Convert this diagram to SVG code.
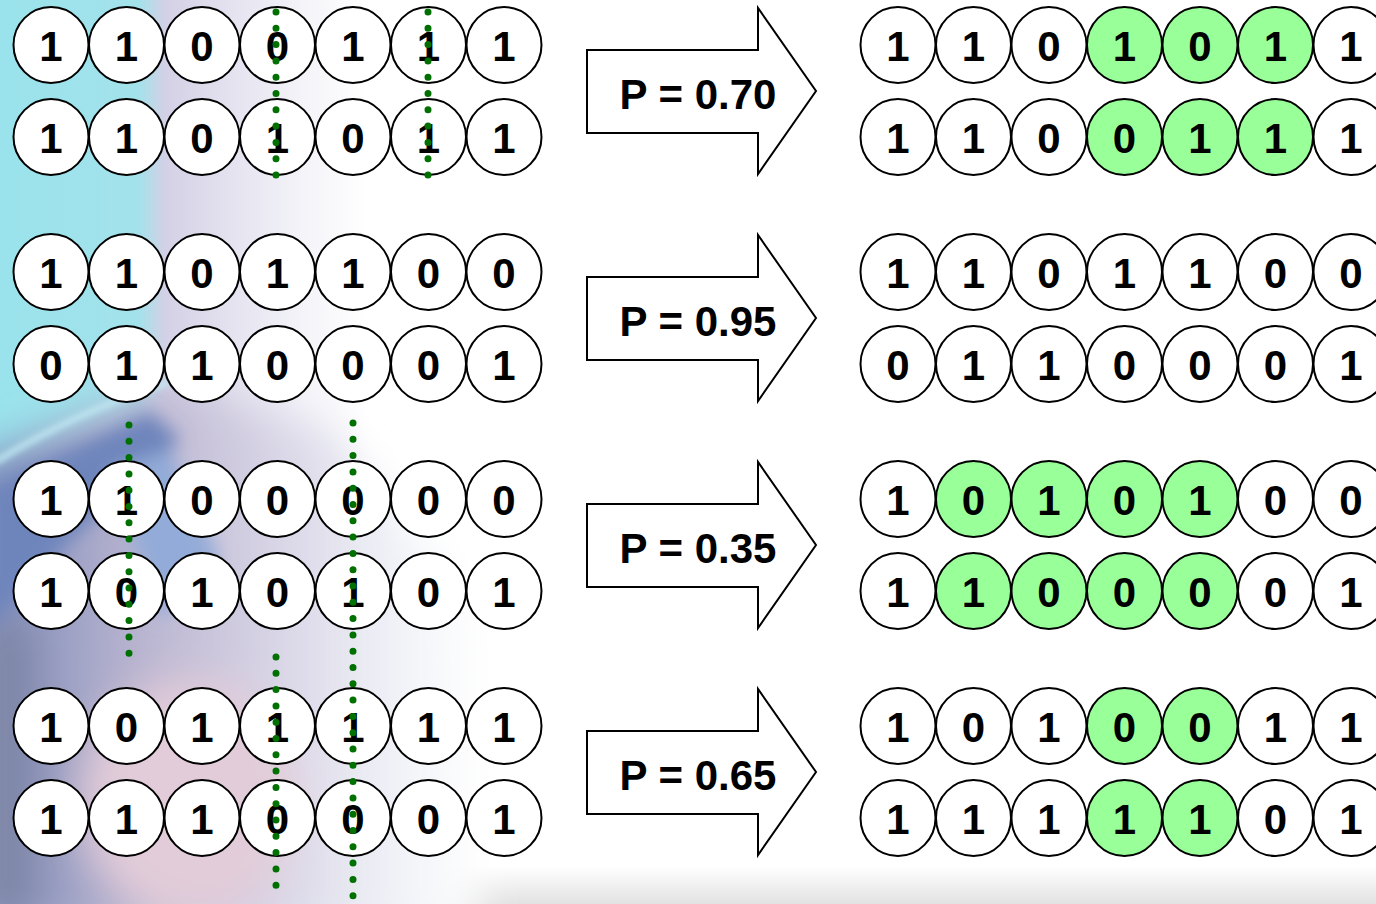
<svg xmlns="http://www.w3.org/2000/svg" width="1376" height="904" viewBox="0 0 1376 904">
<style>
.c{fill:#fff;stroke:#000;stroke-width:2}
.g{fill:#99ff99;stroke:#000;stroke-width:2}
.d{font-family:"Liberation Sans",Arial,sans-serif;font-weight:bold;font-size:42px;text-anchor:middle;fill:#000}
.a{fill:#fff;stroke:#000;stroke-width:2;stroke-linejoin:miter}
.p{font-family:"Liberation Sans",Arial,sans-serif;font-weight:bold;font-size:42px;text-anchor:middle;fill:#000}
.dots{stroke:#007000;stroke-width:7;stroke-linecap:round;stroke-dasharray:0 16.3;fill:none}
</style>
<defs>
<filter id="blur" x="-50%" y="-50%" width="200%" height="200%"><feGaussianBlur stdDeviation="20"/></filter>
<filter id="blur2" x="-50%" y="-50%" width="200%" height="200%"><feGaussianBlur stdDeviation="9"/></filter>
<filter id="blur3" x="-50%" y="-50%" width="200%" height="200%"><feGaussianBlur stdDeviation="3"/></filter>
<linearGradient id="topg" gradientUnits="userSpaceOnUse" x1="0" y1="0" x2="460" y2="0">
<stop offset="0" stop-color="#9ae3ec"/>
<stop offset="0.3" stop-color="#a3e2eb"/>
<stop offset="0.36" stop-color="#d4d0e6"/>
<stop offset="0.5" stop-color="#e4e2ef"/>
<stop offset="0.66" stop-color="#f4f4f9"/>
<stop offset="0.8" stop-color="#ffffff"/>
</linearGradient>
<linearGradient id="botg" gradientUnits="userSpaceOnUse" x1="0" y1="0" x2="480" y2="0">
<stop offset="0" stop-color="#8591bd"/>
<stop offset="0.3" stop-color="#bab5d0"/>
<stop offset="0.55" stop-color="#d6d2e4"/>
<stop offset="0.8" stop-color="#eef0f6"/>
<stop offset="1" stop-color="#ffffff"/>
</linearGradient>
<linearGradient id="floor" x1="0" y1="0" x2="0" y2="1">
<stop offset="0" stop-color="#ffffff"/>
<stop offset="1" stop-color="#e2e2e2"/>
</linearGradient>
</defs>
<g id="background">
<rect x="0" y="0" width="1376" height="904" fill="#fff"/>
<rect x="380" y="866" width="996" height="38" fill="url(#floor)"/>
<rect x="0" y="0" width="460" height="480" fill="url(#topg)"/>
<g filter="url(#blur)">
<polygon points="0,450 170,385 330,430 470,600 480,940 -40,940 -40,470" fill="url(#botg)"/>
<ellipse cx="190" cy="800" rx="110" ry="120" fill="#e2ccd9"/>
<rect x="-30" y="620" width="70" height="300" fill="#7f87a8"/>
</g>
<g filter="url(#blur2)">
<polygon points="-20,490 150,412 180,440 70,540 -20,640" fill="#6e85bc"/>
<polygon points="110,470 170,450 220,560 160,620" fill="#93abd8"/>
</g>
<g filter="url(#blur3)">
<path d="M-5,462 Q80,410 170,382" stroke="#c2e8f2" stroke-width="6" fill="none"/>
</g>
</g>
<g id="arrows">
<g id="arrow-1"><path class="a" d="M587,50 L758,50 L758,8 L816,91 L758,174 L758,133 L587,133 Z"/><text class="p" x="698" y="109">P = 0.70</text></g>
<g id="arrow-2"><path class="a" d="M587,277 L758,277 L758,235 L816,318 L758,401 L758,360 L587,360 Z"/><text class="p" x="698" y="336">P = 0.95</text></g>
<g id="arrow-3"><path class="a" d="M587,504 L758,504 L758,462 L816,545 L758,628 L758,587 L587,587 Z"/><text class="p" x="698" y="563">P = 0.35</text></g>
<g id="arrow-4"><path class="a" d="M587,731 L758,731 L758,689 L816,772 L758,855 L758,814 L587,814 Z"/><text class="p" x="698" y="790">P = 0.65</text></g>
</g>
<g id="left-parents">
<g id="L1"><ellipse class="c" cx="51" cy="45" rx="37.5" ry="38"/><ellipse class="c" cx="126.5" cy="45" rx="37.5" ry="38"/><ellipse class="c" cx="202" cy="45" rx="37.5" ry="38"/><ellipse class="c" cx="277.5" cy="45" rx="37.5" ry="38"/><ellipse class="c" cx="353" cy="45" rx="37.5" ry="38"/><ellipse class="c" cx="428.5" cy="45" rx="37.5" ry="38"/><ellipse class="c" cx="504" cy="45" rx="37.5" ry="38"/>
<text class="d" x="51" y="61">1</text><text class="d" x="126.5" y="61">1</text><text class="d" x="202" y="61">0</text><text class="d" x="277.5" y="61">0</text><text class="d" x="353" y="61">1</text><text class="d" x="428.5" y="61">1</text><text class="d" x="504" y="61">1</text></g>
<g id="L2"><ellipse class="c" cx="51" cy="137" rx="37.5" ry="38"/><ellipse class="c" cx="126.5" cy="137" rx="37.5" ry="38"/><ellipse class="c" cx="202" cy="137" rx="37.5" ry="38"/><ellipse class="c" cx="277.5" cy="137" rx="37.5" ry="38"/><ellipse class="c" cx="353" cy="137" rx="37.5" ry="38"/><ellipse class="c" cx="428.5" cy="137" rx="37.5" ry="38"/><ellipse class="c" cx="504" cy="137" rx="37.5" ry="38"/>
<text class="d" x="51" y="153">1</text><text class="d" x="126.5" y="153">1</text><text class="d" x="202" y="153">0</text><text class="d" x="277.5" y="153">1</text><text class="d" x="353" y="153">0</text><text class="d" x="428.5" y="153">1</text><text class="d" x="504" y="153">1</text></g>
<g id="L3"><ellipse class="c" cx="51" cy="272" rx="37.5" ry="38"/><ellipse class="c" cx="126.5" cy="272" rx="37.5" ry="38"/><ellipse class="c" cx="202" cy="272" rx="37.5" ry="38"/><ellipse class="c" cx="277.5" cy="272" rx="37.5" ry="38"/><ellipse class="c" cx="353" cy="272" rx="37.5" ry="38"/><ellipse class="c" cx="428.5" cy="272" rx="37.5" ry="38"/><ellipse class="c" cx="504" cy="272" rx="37.5" ry="38"/>
<text class="d" x="51" y="288">1</text><text class="d" x="126.5" y="288">1</text><text class="d" x="202" y="288">0</text><text class="d" x="277.5" y="288">1</text><text class="d" x="353" y="288">1</text><text class="d" x="428.5" y="288">0</text><text class="d" x="504" y="288">0</text></g>
<g id="L4"><ellipse class="c" cx="51" cy="364" rx="37.5" ry="38"/><ellipse class="c" cx="126.5" cy="364" rx="37.5" ry="38"/><ellipse class="c" cx="202" cy="364" rx="37.5" ry="38"/><ellipse class="c" cx="277.5" cy="364" rx="37.5" ry="38"/><ellipse class="c" cx="353" cy="364" rx="37.5" ry="38"/><ellipse class="c" cx="428.5" cy="364" rx="37.5" ry="38"/><ellipse class="c" cx="504" cy="364" rx="37.5" ry="38"/>
<text class="d" x="51" y="380">0</text><text class="d" x="126.5" y="380">1</text><text class="d" x="202" y="380">1</text><text class="d" x="277.5" y="380">0</text><text class="d" x="353" y="380">0</text><text class="d" x="428.5" y="380">0</text><text class="d" x="504" y="380">1</text></g>
<g id="L5"><ellipse class="c" cx="51" cy="499" rx="37.5" ry="38"/><ellipse class="c" cx="126.5" cy="499" rx="37.5" ry="38"/><ellipse class="c" cx="202" cy="499" rx="37.5" ry="38"/><ellipse class="c" cx="277.5" cy="499" rx="37.5" ry="38"/><ellipse class="c" cx="353" cy="499" rx="37.5" ry="38"/><ellipse class="c" cx="428.5" cy="499" rx="37.5" ry="38"/><ellipse class="c" cx="504" cy="499" rx="37.5" ry="38"/>
<text class="d" x="51" y="515">1</text><text class="d" x="126.5" y="515">1</text><text class="d" x="202" y="515">0</text><text class="d" x="277.5" y="515">0</text><text class="d" x="353" y="515">0</text><text class="d" x="428.5" y="515">0</text><text class="d" x="504" y="515">0</text></g>
<g id="L6"><ellipse class="c" cx="51" cy="591" rx="37.5" ry="38"/><ellipse class="c" cx="126.5" cy="591" rx="37.5" ry="38"/><ellipse class="c" cx="202" cy="591" rx="37.5" ry="38"/><ellipse class="c" cx="277.5" cy="591" rx="37.5" ry="38"/><ellipse class="c" cx="353" cy="591" rx="37.5" ry="38"/><ellipse class="c" cx="428.5" cy="591" rx="37.5" ry="38"/><ellipse class="c" cx="504" cy="591" rx="37.5" ry="38"/>
<text class="d" x="51" y="607">1</text><text class="d" x="126.5" y="607">0</text><text class="d" x="202" y="607">1</text><text class="d" x="277.5" y="607">0</text><text class="d" x="353" y="607">1</text><text class="d" x="428.5" y="607">0</text><text class="d" x="504" y="607">1</text></g>
<g id="L7"><ellipse class="c" cx="51" cy="726" rx="37.5" ry="38"/><ellipse class="c" cx="126.5" cy="726" rx="37.5" ry="38"/><ellipse class="c" cx="202" cy="726" rx="37.5" ry="38"/><ellipse class="c" cx="277.5" cy="726" rx="37.5" ry="38"/><ellipse class="c" cx="353" cy="726" rx="37.5" ry="38"/><ellipse class="c" cx="428.5" cy="726" rx="37.5" ry="38"/><ellipse class="c" cx="504" cy="726" rx="37.5" ry="38"/>
<text class="d" x="51" y="742">1</text><text class="d" x="126.5" y="742">0</text><text class="d" x="202" y="742">1</text><text class="d" x="277.5" y="742">1</text><text class="d" x="353" y="742">1</text><text class="d" x="428.5" y="742">1</text><text class="d" x="504" y="742">1</text></g>
<g id="L8"><ellipse class="c" cx="51" cy="818" rx="37.5" ry="38"/><ellipse class="c" cx="126.5" cy="818" rx="37.5" ry="38"/><ellipse class="c" cx="202" cy="818" rx="37.5" ry="38"/><ellipse class="c" cx="277.5" cy="818" rx="37.5" ry="38"/><ellipse class="c" cx="353" cy="818" rx="37.5" ry="38"/><ellipse class="c" cx="428.5" cy="818" rx="37.5" ry="38"/><ellipse class="c" cx="504" cy="818" rx="37.5" ry="38"/>
<text class="d" x="51" y="834">1</text><text class="d" x="126.5" y="834">1</text><text class="d" x="202" y="834">1</text><text class="d" x="277.5" y="834">0</text><text class="d" x="353" y="834">0</text><text class="d" x="428.5" y="834">0</text><text class="d" x="504" y="834">1</text></g>
</g>
<g id="right-children">
<g id="R1"><ellipse class="c" cx="898" cy="45" rx="37.5" ry="38"/><ellipse class="c" cx="973.5" cy="45" rx="37.5" ry="38"/><ellipse class="c" cx="1049" cy="45" rx="37.5" ry="38"/><ellipse class="g" cx="1124.5" cy="45" rx="37.5" ry="38"/><ellipse class="g" cx="1200" cy="45" rx="37.5" ry="38"/><ellipse class="g" cx="1275.5" cy="45" rx="37.5" ry="38"/><ellipse class="c" cx="1351" cy="45" rx="37.5" ry="38"/>
<text class="d" x="898" y="61">1</text><text class="d" x="973.5" y="61">1</text><text class="d" x="1049" y="61">0</text><text class="d" x="1124.5" y="61">1</text><text class="d" x="1200" y="61">0</text><text class="d" x="1275.5" y="61">1</text><text class="d" x="1351" y="61">1</text></g>
<g id="R2"><ellipse class="c" cx="898" cy="137" rx="37.5" ry="38"/><ellipse class="c" cx="973.5" cy="137" rx="37.5" ry="38"/><ellipse class="c" cx="1049" cy="137" rx="37.5" ry="38"/><ellipse class="g" cx="1124.5" cy="137" rx="37.5" ry="38"/><ellipse class="g" cx="1200" cy="137" rx="37.5" ry="38"/><ellipse class="g" cx="1275.5" cy="137" rx="37.5" ry="38"/><ellipse class="c" cx="1351" cy="137" rx="37.5" ry="38"/>
<text class="d" x="898" y="153">1</text><text class="d" x="973.5" y="153">1</text><text class="d" x="1049" y="153">0</text><text class="d" x="1124.5" y="153">0</text><text class="d" x="1200" y="153">1</text><text class="d" x="1275.5" y="153">1</text><text class="d" x="1351" y="153">1</text></g>
<g id="R3"><ellipse class="c" cx="898" cy="272" rx="37.5" ry="38"/><ellipse class="c" cx="973.5" cy="272" rx="37.5" ry="38"/><ellipse class="c" cx="1049" cy="272" rx="37.5" ry="38"/><ellipse class="c" cx="1124.5" cy="272" rx="37.5" ry="38"/><ellipse class="c" cx="1200" cy="272" rx="37.5" ry="38"/><ellipse class="c" cx="1275.5" cy="272" rx="37.5" ry="38"/><ellipse class="c" cx="1351" cy="272" rx="37.5" ry="38"/>
<text class="d" x="898" y="288">1</text><text class="d" x="973.5" y="288">1</text><text class="d" x="1049" y="288">0</text><text class="d" x="1124.5" y="288">1</text><text class="d" x="1200" y="288">1</text><text class="d" x="1275.5" y="288">0</text><text class="d" x="1351" y="288">0</text></g>
<g id="R4"><ellipse class="c" cx="898" cy="364" rx="37.5" ry="38"/><ellipse class="c" cx="973.5" cy="364" rx="37.5" ry="38"/><ellipse class="c" cx="1049" cy="364" rx="37.5" ry="38"/><ellipse class="c" cx="1124.5" cy="364" rx="37.5" ry="38"/><ellipse class="c" cx="1200" cy="364" rx="37.5" ry="38"/><ellipse class="c" cx="1275.5" cy="364" rx="37.5" ry="38"/><ellipse class="c" cx="1351" cy="364" rx="37.5" ry="38"/>
<text class="d" x="898" y="380">0</text><text class="d" x="973.5" y="380">1</text><text class="d" x="1049" y="380">1</text><text class="d" x="1124.5" y="380">0</text><text class="d" x="1200" y="380">0</text><text class="d" x="1275.5" y="380">0</text><text class="d" x="1351" y="380">1</text></g>
<g id="R5"><ellipse class="c" cx="898" cy="499" rx="37.5" ry="38"/><ellipse class="g" cx="973.5" cy="499" rx="37.5" ry="38"/><ellipse class="g" cx="1049" cy="499" rx="37.5" ry="38"/><ellipse class="g" cx="1124.5" cy="499" rx="37.5" ry="38"/><ellipse class="g" cx="1200" cy="499" rx="37.5" ry="38"/><ellipse class="c" cx="1275.5" cy="499" rx="37.5" ry="38"/><ellipse class="c" cx="1351" cy="499" rx="37.5" ry="38"/>
<text class="d" x="898" y="515">1</text><text class="d" x="973.5" y="515">0</text><text class="d" x="1049" y="515">1</text><text class="d" x="1124.5" y="515">0</text><text class="d" x="1200" y="515">1</text><text class="d" x="1275.5" y="515">0</text><text class="d" x="1351" y="515">0</text></g>
<g id="R6"><ellipse class="c" cx="898" cy="591" rx="37.5" ry="38"/><ellipse class="g" cx="973.5" cy="591" rx="37.5" ry="38"/><ellipse class="g" cx="1049" cy="591" rx="37.5" ry="38"/><ellipse class="g" cx="1124.5" cy="591" rx="37.5" ry="38"/><ellipse class="g" cx="1200" cy="591" rx="37.5" ry="38"/><ellipse class="c" cx="1275.5" cy="591" rx="37.5" ry="38"/><ellipse class="c" cx="1351" cy="591" rx="37.5" ry="38"/>
<text class="d" x="898" y="607">1</text><text class="d" x="973.5" y="607">1</text><text class="d" x="1049" y="607">0</text><text class="d" x="1124.5" y="607">0</text><text class="d" x="1200" y="607">0</text><text class="d" x="1275.5" y="607">0</text><text class="d" x="1351" y="607">1</text></g>
<g id="R7"><ellipse class="c" cx="898" cy="726" rx="37.5" ry="38"/><ellipse class="c" cx="973.5" cy="726" rx="37.5" ry="38"/><ellipse class="c" cx="1049" cy="726" rx="37.5" ry="38"/><ellipse class="g" cx="1124.5" cy="726" rx="37.5" ry="38"/><ellipse class="g" cx="1200" cy="726" rx="37.5" ry="38"/><ellipse class="c" cx="1275.5" cy="726" rx="37.5" ry="38"/><ellipse class="c" cx="1351" cy="726" rx="37.5" ry="38"/>
<text class="d" x="898" y="742">1</text><text class="d" x="973.5" y="742">0</text><text class="d" x="1049" y="742">1</text><text class="d" x="1124.5" y="742">0</text><text class="d" x="1200" y="742">0</text><text class="d" x="1275.5" y="742">1</text><text class="d" x="1351" y="742">1</text></g>
<g id="R8"><ellipse class="c" cx="898" cy="818" rx="37.5" ry="38"/><ellipse class="c" cx="973.5" cy="818" rx="37.5" ry="38"/><ellipse class="c" cx="1049" cy="818" rx="37.5" ry="38"/><ellipse class="g" cx="1124.5" cy="818" rx="37.5" ry="38"/><ellipse class="g" cx="1200" cy="818" rx="37.5" ry="38"/><ellipse class="c" cx="1275.5" cy="818" rx="37.5" ry="38"/><ellipse class="c" cx="1351" cy="818" rx="37.5" ry="38"/>
<text class="d" x="898" y="834">1</text><text class="d" x="973.5" y="834">1</text><text class="d" x="1049" y="834">1</text><text class="d" x="1124.5" y="834">1</text><text class="d" x="1200" y="834">1</text><text class="d" x="1275.5" y="834">0</text><text class="d" x="1351" y="834">1</text></g>
</g>
<g id="crossover-points">
<line class="dots" x1="276" y1="-4.3" x2="276" y2="177"/>
<line class="dots" x1="428" y1="-4.3" x2="428" y2="177"/>
<line class="dots" x1="129" y1="425" x2="129" y2="654"/>
<line class="dots" x1="353" y1="423" x2="353" y2="910"/>
<line class="dots" x1="276" y1="657" x2="276" y2="887"/>
</g>
</svg>
